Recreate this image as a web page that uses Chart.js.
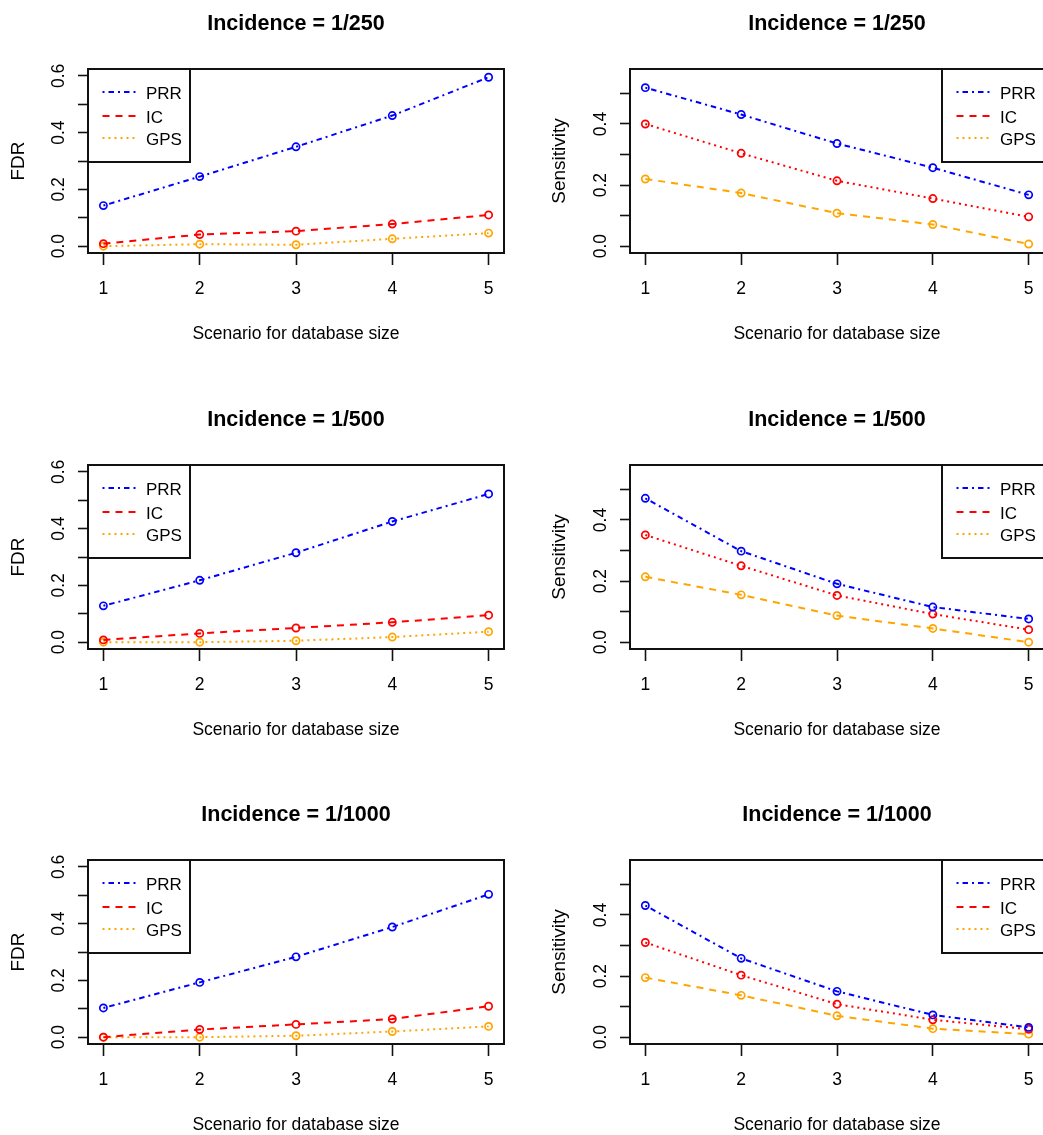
<!DOCTYPE html>
<html>
<head>
<meta charset="utf-8">
<script src="https://cdn.jsdelivr.net/npm/chart.js@4/dist/chart.umd.min.js"></script>
<style>
  html, body { margin: 0; padding: 0; background: #fff; overflow: hidden; width: 1043px; height: 1135px; }
  .panel { position: absolute; }
</style>
</head>
<body>
<script>
// ---------------- DATA ----------------
const scenarios = [1, 2, 3, 4, 5];
const seriesNames = ['PRR', 'IC', 'GPS'];
const seriesColors = ['#0000FF', '#FF0000', '#FFA500'];
const titles = ['Incidence = 1/250', 'Incidence = 1/500', 'Incidence = 1/1000'];
const xTitle = 'Scenario for database size';
const xTicks = [1, 2, 3, 4, 5];
const xRange = [0.84, 5.16];
const fdrTicks = [0, 0.1, 0.2, 0.3, 0.4, 0.5, 0.6];
const sensTicks = [0, 0.1, 0.2, 0.3, 0.4, 0.5];
const fdrRange = [-0.024, 0.624];
const sensRange = [-0.0223, 0.580];

// FDR, incidence 1/250
const fdr250PRR = [0.143, 0.245, 0.350, 0.460, 0.595];
const fdr250IC  = [0.009, 0.041, 0.053, 0.078, 0.110];
const fdr250GPS = [0.000, 0.007, 0.005, 0.026, 0.046];
// Sensitivity, incidence 1/250
const sens250PRR = [0.519, 0.431, 0.336, 0.257, 0.168];
const sens250IC  = [0.400, 0.304, 0.214, 0.156, 0.096];
const sens250GPS = [0.220, 0.174, 0.108, 0.071, 0.007];
// FDR, incidence 1/500
const fdr500PRR = [0.128, 0.218, 0.315, 0.425, 0.522];
const fdr500IC  = [0.008, 0.031, 0.050, 0.070, 0.095];
const fdr500GPS = [0.000, 0.000, 0.005, 0.018, 0.037];
// Sensitivity, incidence 1/500
const sens500PRR = [0.471, 0.298, 0.191, 0.115, 0.076];
const sens500IC  = [0.351, 0.250, 0.153, 0.092, 0.041];
const sens500GPS = [0.214, 0.155, 0.087, 0.045, 0.000];
// FDR, incidence 1/1000
const fdr1000PRR = [0.103, 0.193, 0.283, 0.388, 0.503];
const fdr1000IC  = [0.000, 0.027, 0.045, 0.064, 0.109];
const fdr1000GPS = [0.000, 0.000, 0.005, 0.020, 0.038];
// Sensitivity, incidence 1/1000
const sens1000PRR = [0.431, 0.258, 0.150, 0.073, 0.032];
const sens1000IC  = [0.310, 0.203, 0.108, 0.057, 0.026];
const sens1000GPS = [0.195, 0.137, 0.070, 0.028, 0.010];

// ---------------- STYLE ----------------
const DOTDASH = [2, 4, 5.5, 4];
const DASHED = [7, 6];
const DOTTED = [2, 4];
const fdrLineDash = [DOTDASH, DASHED, DOTTED];
const sensLineDash = [DOTDASH, DOTTED, DASHED];
const legendDash = [DOTDASH, DASHED, DOTTED];

Chart.defaults.font.family = '"Liberation Sans", Arial, Helvetica, sans-serif';
Chart.defaults.color = '#000';

const boxPlugin = {
  id: 'rBox',
  afterDatasetsDraw(chart) {
    const { ctx, chartArea: a } = chart;
    ctx.save();
    ctx.strokeStyle = '#111';
    ctx.lineWidth = 2;
    ctx.setLineDash([]);
    ctx.strokeRect(a.left, a.top, a.right - a.left, a.bottom - a.top);
    ctx.restore();
  }
};

const legendPlugin = {
  id: 'rLegend',
  afterDraw(chart, args, opts) {
    if (!opts || !opts.side) return;
    const { ctx, chartArea: a } = chart;
    const w = 102, h = 93;
    const x0 = opts.side === 'left' ? a.left : a.right - w;
    const y0 = a.top;
    ctx.save();
    ctx.strokeStyle = '#111';
    ctx.lineWidth = 2;
    ctx.setLineDash([]);
    ctx.strokeRect(x0, y0, w, h);
    const rows = [23, 47, 69];
    seriesNames.forEach((name, i) => {
      const y = y0 + rows[i];
      ctx.beginPath();
      ctx.setLineDash(legendDash[i]);
      ctx.strokeStyle = seriesColors[i];
      ctx.lineWidth = 2.2;
      ctx.moveTo(x0 + 14.5, y);
      ctx.lineTo(x0 + 47.5, y);
      ctx.stroke();
      ctx.setLineDash([]);
      ctx.fillStyle = '#000';
      ctx.font = '17px "Liberation Sans", Arial, sans-serif';
      ctx.textBaseline = 'middle';
      ctx.textAlign = 'left';
      ctx.fillText(name, x0 + 58, y + 2.5);
    });
    ctx.restore();
  }
};

function makeDatasets(seriesArrays, dashes) {
  return seriesArrays.map((vals, i) => ({
    label: seriesNames[i],
    data: scenarios.map((x, j) => ({ x: x, y: vals[j] })),
    borderColor: seriesColors[i],
    borderWidth: 2,
    borderDash: dashes[i],
    pointRadius: 3.6,
    pointBorderWidth: 1.7,
    pointBorderColor: seriesColors[i],
    pointBackgroundColor: 'rgba(255,255,255,0)',
    pointStyle: 'circle',
    fill: false,
    tension: 0,
    clip: false
  }));
}

function makePanel(opts) {
  const div = document.createElement('div');
  div.className = 'panel';
  div.style.left = opts.left + 'px';
  div.style.top = opts.top + 'px';
  div.style.width = opts.width + 'px';
  div.style.height = opts.height + 'px';
  const canvas = document.createElement('canvas');
  canvas.width = opts.width;
  canvas.height = opts.height;
  canvas.style.width = opts.width + 'px';
  canvas.style.height = opts.height + 'px';
  div.appendChild(canvas);
  document.body.appendChild(div);

  const yTickVals = opts.yTicks;
  new Chart(canvas.getContext('2d'), {
    type: 'line',
    data: { datasets: makeDatasets(opts.series, opts.dashes) },
    plugins: [boxPlugin, legendPlugin],
    options: {
      responsive: false,
      animation: false,
      devicePixelRatio: 1,
      events: [],
      layout: { padding: { left: 0, right: 16, top: 0, bottom: 0 } },
      plugins: {
        legend: { display: false },
        tooltip: { enabled: false },
        title: {
          display: true,
          text: opts.title,
          fullSize: false,
          color: '#000',
          font: { size: 21.5, weight: 'bold', lineHeight: 1.2 },
          padding: { top: 11, bottom: 32.2 }
        },
        rLegend: { side: opts.legendSide }
      },
      scales: {
        x: {
          type: 'linear',
          min: xRange[0],
          max: xRange[1],
          afterBuildTicks: (s) => { s.ticks = xTicks.map(v => ({ value: v })); },
          afterFit: (s) => { s.height = 97; },
          ticks: {
            font: { size: 17.5 },
            padding: 14,
            maxRotation: 0,
            autoSkip: false,
            callback: (v) => String(v)
          },
          grid: { display: true, drawOnChartArea: false, drawTicks: true, tickLength: 12, tickColor: '#111', tickWidth: 1.6 },
          border: { display: false },
          title: { display: true, text: xTitle, font: { size: 17.5 }, padding: { top: 0, bottom: 5 } }
        },
        y: {
          type: 'linear',
          min: opts.yRange[0],
          max: opts.yRange[1],
          afterBuildTicks: (s) => { s.ticks = yTickVals.map(v => ({ value: v })); },
          afterFit: (s) => { s.width = opts.yWidth; },
          ticks: {
            font: { size: 17.5 },
            padding: 6.5,
            minRotation: 90,
            maxRotation: 90,
            crossAlign: 'center',
            autoSkip: false,
            callback: (v) => (Math.round(v * 10) % 2 === 0 ? v.toFixed(1) : '')
          },
          grid: { display: true, drawOnChartArea: false, drawTicks: true, tickLength: 10, tickColor: '#111', tickWidth: 1.6 },
          border: { display: false },
          title: { display: true, text: opts.yTitle, font: { size: 19 }, padding: { top: opts.yTitlePad, bottom: 0 } }
        }
      }
    }
  });
}

const rowTops = [0, 396, 791];
const fdrSeries = [
  [fdr250PRR, fdr250IC, fdr250GPS],
  [fdr500PRR, fdr500IC, fdr500GPS],
  [fdr1000PRR, fdr1000IC, fdr1000GPS]
];
const sensSeries = [
  [sens250PRR, sens250IC, sens250GPS],
  [sens500PRR, sens500IC, sens500GPS],
  [sens1000PRR, sens1000IC, sens1000GPS]
];

for (let r = 0; r < 3; r++) {
  makePanel({
    left: 0, top: rowTops[r], width: 520, height: 350,
    title: titles[r], series: fdrSeries[r], dashes: fdrLineDash,
    yTicks: fdrTicks, yRange: fdrRange, yWidth: 88,
    yTitle: 'FDR', yTitlePad: 7.6, legendSide: 'left'
  });
  makePanel({
    left: 520, top: rowTops[r], width: 540, height: 350,
    title: titles[r], series: sensSeries[r], dashes: sensLineDash,
    yTicks: sensTicks, yRange: sensRange, yWidth: 110,
    yTitle: 'Sensitivity', yTitlePad: 28.6, legendSide: 'right'
  });
}
</script>
</body>
</html>
